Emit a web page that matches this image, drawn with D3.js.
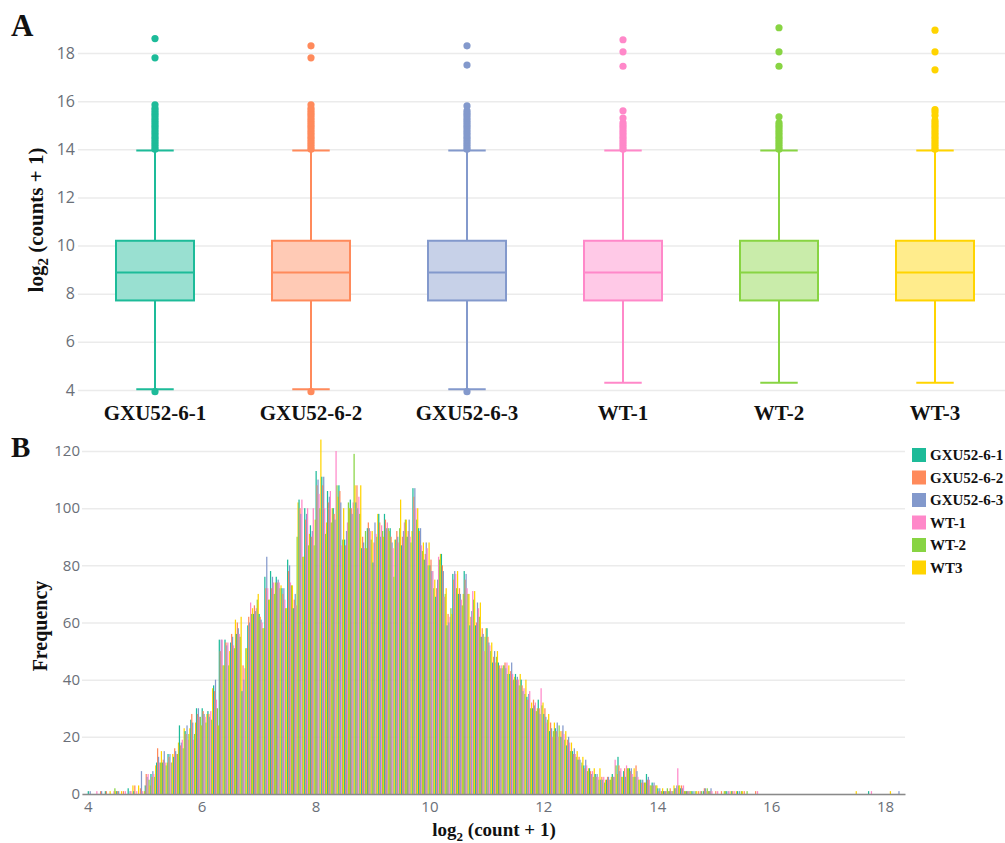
<!DOCTYPE html>
<html>
<head>
<meta charset="utf-8">
<script src="https://cdn.jsdelivr.net/npm/d3@7"></script>
<style>
body { margin: 0; background: #fff; }
</style>
</head>
<body>
<div id="chart"></div>
<script>
var width = 1005;
var height = 843;

// samples and colours
var samples = ["GXU52-6-1", "GXU52-6-2", "GXU52-6-3", "WT-1", "WT-2", "WT-3"];
var legendLabels = ["GXU52-6-1", "GXU52-6-2", "GXU52-6-3", "WT-1", "WT-2", "WT3"];
var colors = ["#1dbb99", "#ff8a5b", "#8399cc", "#ff88c9", "#88d443", "#ffd400"];

// panel A: box plot stats (log2 counts + 1)
var lowerWhisker = [4.03, 4.03, 4.03, 4.3, 4.3, 4.3];
var q1 = [7.72, 7.72, 7.72, 7.72, 7.72, 7.72];
var median = [8.88, 8.88, 8.88, 8.88, 8.88, 8.88];
var q3 = [10.2, 10.2, 10.2, 10.2, 10.2, 10.2];
var upperWhisker = [13.95, 13.95, 13.95, 13.95, 13.95, 13.95];
var outliers = [
  [3.93, 14.0, 14.1, 14.2, 14.3, 14.4, 14.5, 14.6, 14.7, 14.8, 14.9, 15.0, 15.1, 15.2, 15.3, 15.4, 15.5, 15.6, 15.7, 15.85, 17.8, 18.6],
  [3.93, 14.0, 14.1, 14.2, 14.3, 14.4, 14.5, 14.6, 14.7, 14.8, 14.9, 15.0, 15.1, 15.2, 15.3, 15.4, 15.5, 15.6, 15.7, 15.85, 17.8, 18.3],
  [3.93, 14.0, 14.1, 14.2, 14.3, 14.4, 14.5, 14.6, 14.7, 14.8, 14.9, 15.0, 15.1, 15.2, 15.3, 15.4, 15.5, 15.6, 15.8, 17.5, 18.3],
  [14.0, 14.1, 14.2, 14.3, 14.4, 14.5, 14.6, 14.7, 14.8, 14.9, 15.0, 15.1, 15.3, 15.6, 17.45, 18.05, 18.55],
  [14.0, 14.1, 14.2, 14.3, 14.4, 14.5, 14.6, 14.7, 14.8, 14.9, 15.0, 15.1, 15.35, 17.45, 18.05, 19.05],
  [14.0, 14.1, 14.2, 14.3, 14.4, 14.5, 14.6, 14.7, 14.8, 14.9, 15.0, 15.1, 15.2, 15.4, 15.55, 15.65, 17.3, 18.05, 18.95]
];
var boxTicks = [4, 6, 8, 10, 12, 14, 16, 18];

// panel B: histogram, bins of 0.1 from 4.0 to 15.7 plus a few sparse bins
var binWidth = 0.1;
var bins = d3.range(40, 158).map(function(d) { return d / 10; }).concat([17.4, 17.7, 18.0, 18.2]);
var freqGXU1 = [
  1,0,0,1,0,1,0,2,1,0,
  3,7,11,11,14,13,24,22,26,30,
  30,29,38,54,54,53,56,36,59,63,
  63,76,78,76,72,82,65,103,100,94,
  113,111,106,100,108,89,103,102,86,93,
  81,98,98,93,89,87,90,107,93,82,
  80,69,84,59,77,70,78,59,59,55,
  58,46,46,45,42,42,40,34,30,33,
  28,22,23,20,17,15,12,10,9,7,
  5,5,7,13,8,9,6,5,7,4,
  2,1,1,2,2,1,1,0,1,1,
  0,0,1,1,1,0,0,0,
  0,1,0,0];
var freqGXU2 = [
  0,0,1,1,0,1,1,0,3,2,
  7,6,16,12,13,16,17,21,28,28,
  29,28,36,50,53,56,60,45,62,66,
  62,72,72,74,70,78,68,100,96,90,
  108,108,102,98,106,87,100,108,90,95,
  88,95,96,90,92,90,92,104,92,84,
  82,72,80,63,75,72,75,62,60,58,
  55,48,45,46,43,40,38,33,33,30,
  30,25,22,22,19,14,13,9,8,6,
  6,6,6,10,9,8,10,4,5,3,
  1,1,2,2,3,1,0,1,2,1,
  1,1,0,1,0,1,0,1,
  0,0,0,0];
var freqGXU3 = [
  1,0,1,0,0,1,0,1,0,8,
  6,8,13,15,14,15,18,24,25,30,
  28,27,40,54,52,55,58,40,60,64,
  61,83,76,75,72,80,70,98,98,92,
  110,111,104,96,102,92,98,100,88,93,
  95,90,93,88,90,92,96,107,93,88,
  78,75,78,60,78,70,77,64,67,56,
  53,50,44,44,46,41,36,35,31,28,
  27,23,25,24,20,16,12,12,7,7,
  5,6,6,8,6,9,8,5,6,4,
  2,1,1,3,2,1,1,0,2,2,
  0,0,1,0,1,0,0,0,
  0,0,0,1];
var freqWT1 = [
  0,1,0,0,1,0,1,1,1,1,
  7,7,11,11,11,14,19,19,19,27,
  27,29,33,54,53,52,56,44,67,65,
  60,72,74,74,68,74,66,103,100,100,
  105,100,106,120,87,95,102,104,86,92,
  91,94,95,86,88,95,90,100,87,86,
  78,83,69,62,77,68,72,71,65,50,
  52,46,45,46,42,40,37,36,32,37,
  25,20,20,21,18,14,10,10,8,6,
  6,5,12,9,10,7,6,4,5,3,
  1,1,1,9,3,1,0,1,1,1,
  1,0,1,1,0,0,0,1,
  0,1,0,0];
var freqWT2 = [
  0,0,0,0,2,0,0,0,0,0,
  5,6,11,10,11,14,16,21,21,27,
  25,26,30,45,45,51,55,51,63,68,
  58,68,70,72,65,73,90,83,87,87,
  100,91,95,108,89,102,119,98,92,89,
  90,92,93,76,93,96,88,96,85,80,
  72,82,70,65,72,66,70,68,62,55,
  50,48,44,42,40,38,35,30,29,31,
  26,22,24,19,15,13,11,8,6,5,
  4,5,10,6,9,6,5,4,3,3,
  1,2,1,3,1,1,1,1,2,0,
  0,1,0,0,1,1,0,0,
  0,0,0,0];
var freqWT3 = [
  0,0,0,1,1,1,0,3,3,1,
  3,10,15,11,14,18,23,23,25,24,
  28,37,24,45,50,61,62,51,65,70,
  58,68,74,73,65,73,102,83,91,96,
  124,95,100,104,100,100,108,108,86,92,
  98,90,92,89,103,96,92,100,88,88,
  75,84,72,63,78,70,70,71,67,58,
  53,50,45,45,41,42,40,32,30,32,
  28,25,22,22,18,15,13,9,9,9,
  5,6,7,6,9,9,5,4,3,3,
  2,1,3,3,1,1,1,0,1,0,
  0,1,1,1,1,0,0,0,
  1,0,1,0];
var freqSeries = [freqGXU1, freqGXU2, freqGXU3, freqWT1, freqWT2, freqWT3];
var histXTicks = [4, 6, 8, 10, 12, 14, 16, 18];
var histYTicks = [0, 20, 40, 60, 80, 100, 120];

var serif = "'Liberation Serif', 'Times New Roman', serif";
var sans = "'Open Sans', 'Noto Sans', sans-serif";

var svg = d3.select("#chart")
  .append("svg")
  .attr("width", width)
  .attr("height", height);

// ---------- panel A ----------
var yA = d3.scaleLinear().domain([4, 18]).range([390, 53]);
var xA = d3.scaleBand().domain(samples).range([77, 1013]);
var boxW = xA.bandwidth() * 0.5;
var capW = xA.bandwidth() * 0.24;

var yAxisA = svg.append("g")
  .attr("transform", "translate(78,0)")
  .call(d3.axisLeft(yA).tickValues(boxTicks).tickSize(-(1005 - 78)).tickPadding(3));
yAxisA.select(".domain").remove();
yAxisA.selectAll("line").attr("stroke", "#ebebeb").attr("stroke-width", 1.5);
yAxisA.selectAll("text").attr("fill", "#6a6f78").style("font-family", sans).style("font-size", "16px");

var boxes = svg.selectAll("g.box")
  .data(samples)
  .enter()
  .append("g")
    .attr("class", "box")
    .attr("transform", function(d) { return "translate(" + (xA(d) + xA.bandwidth() / 2) + ",0)"; });

// whisker stems
boxes.append("line")
  .attr("x1", 0).attr("x2", 0)
  .attr("y1", function(d, i) { return yA(lowerWhisker[i]); })
  .attr("y2", function(d, i) { return yA(upperWhisker[i]); })
  .attr("stroke", function(d, i) { return colors[i]; })
  .attr("stroke-width", 2);
// caps
[lowerWhisker, upperWhisker].forEach(function(arr) {
  boxes.append("line")
    .attr("x1", -capW / 2).attr("x2", capW / 2)
    .attr("y1", function(d, i) { return yA(arr[i]); })
    .attr("y2", function(d, i) { return yA(arr[i]); })
    .attr("stroke", function(d, i) { return colors[i]; })
    .attr("stroke-width", 2);
});
// box (white under the translucent fill so the stem doesn't show through)
boxes.append("rect")
  .attr("x", -boxW / 2)
  .attr("width", boxW)
  .attr("y", function(d, i) { return yA(q3[i]); })
  .attr("height", function(d, i) { return yA(q1[i]) - yA(q3[i]); })
  .attr("fill", "#fff");
boxes.append("rect")
  .attr("x", -boxW / 2)
  .attr("width", boxW)
  .attr("y", function(d, i) { return yA(q3[i]); })
  .attr("height", function(d, i) { return yA(q1[i]) - yA(q3[i]); })
  .attr("fill", function(d, i) { return colors[i]; })
  .attr("fill-opacity", 0.45)
  .attr("stroke", function(d, i) { return colors[i]; })
  .attr("stroke-width", 2);
// median
boxes.append("line")
  .attr("x1", -boxW / 2).attr("x2", boxW / 2)
  .attr("y1", function(d, i) { return yA(median[i]); })
  .attr("y2", function(d, i) { return yA(median[i]); })
  .attr("stroke", function(d, i) { return colors[i]; })
  .attr("stroke-width", 2);
// outliers
boxes.each(function(d, i) {
  d3.select(this).selectAll("circle")
    .data(outliers[i])
    .enter()
    .append("circle")
      .attr("cx", 0)
      .attr("cy", function(v) { return yA(v); })
      .attr("r", 3.6)
      .attr("fill", colors[i]);
});

// category labels
svg.selectAll("text.cat")
  .data(samples)
  .enter()
  .append("text")
    .attr("class", "cat")
    .attr("x", function(d) { return xA(d) + xA.bandwidth() / 2; })
    .attr("y", 420)
    .attr("text-anchor", "middle")
    .style("font-family", serif)
    .style("font-weight", "bold")
    .style("font-size", "21px")
    .attr("fill", "#111")
    .text(function(d) { return d; });

var yLabelA = svg.append("text")
  .attr("transform", "rotate(-90)")
  .attr("x", -220)
  .attr("y", 43)
  .attr("text-anchor", "middle")
  .style("font-family", serif)
  .style("font-weight", "bold")
  .style("font-size", "21px")
  .attr("fill", "#111");
yLabelA.append("tspan").text("log");
yLabelA.append("tspan").attr("dy", 5).style("font-size", "15px").text("2");
yLabelA.append("tspan").attr("dy", -5).text(" (counts + 1)");

svg.append("text")
  .attr("x", 11).attr("y", 36)
  .style("font-family", serif).style("font-weight", "bold").style("font-size", "31px")
  .attr("fill", "#111")
  .text("A");

// ---------- panel B ----------
var xB = d3.scaleLinear().domain([3.9, 18.35]).range([82, 905]);
var yB = d3.scaleLinear().domain([0, 120]).range([794, 451]);

var yAxisB = svg.append("g")
  .attr("transform", "translate(82,0)")
  .call(d3.axisLeft(yB).tickValues(histYTicks).tickSize(-(905 - 82)).tickPadding(2));
yAxisB.select(".domain").remove();
yAxisB.selectAll("line").attr("stroke", "#ebebeb").attr("stroke-width", 1.5);
yAxisB.selectAll("text").attr("fill", "#6a6f78").style("font-family", sans).style("font-size", "15px");

var xSub = d3.scaleBand()
  .domain(d3.range(freqSeries.length))
  .range([0, xB(4 + binWidth) - xB(4)]);

var barData = [];
bins.forEach(function(b, i) {
  freqSeries.forEach(function(arr, s) {
    if (arr[i] > 0) barData.push({bin: b, s: s, v: arr[i]});
  });
});

svg.append("g").selectAll("rect")
  .data(barData)
  .enter()
  .append("rect")
    .attr("x", function(d) { return xB(d.bin) + xSub(d.s); })
    .attr("width", xSub.bandwidth() * 1.3)
    .attr("y", function(d) { return yB(d.v); })
    .attr("height", function(d) { return yB(0) - yB(d.v); })
    .attr("fill", function(d) { return colors[d.s]; });

var xAxisB = svg.append("g")
  .attr("transform", "translate(0," + yB(0) + ")")
  .call(d3.axisBottom(xB).tickValues(histXTicks).tickSize(0).tickPadding(7));
xAxisB.select(".domain").attr("stroke", "#8a8a8a").attr("stroke-width", 1.5);
xAxisB.selectAll("text").attr("fill", "#6a6f78").style("font-family", sans).style("font-size", "15px");

svg.append("text")
  .attr("transform", "rotate(-90)")
  .attr("x", -626)
  .attr("y", 47)
  .attr("text-anchor", "middle")
  .style("font-family", serif).style("font-weight", "bold").style("font-size", "20px")
  .attr("fill", "#111")
  .text("Frequency");

var xLabelB = svg.append("text")
  .attr("x", 494)
  .attr("y", 836)
  .attr("text-anchor", "middle")
  .style("font-family", serif).style("font-weight", "bold").style("font-size", "19px")
  .attr("fill", "#111");
xLabelB.append("tspan").text("log");
xLabelB.append("tspan").attr("dy", 5).style("font-size", "13px").text("2");
xLabelB.append("tspan").attr("dy", -5).text(" (count + 1)");

svg.append("text")
  .attr("x", 11).attr("y", 457)
  .style("font-family", serif).style("font-weight", "bold").style("font-size", "29px")
  .attr("fill", "#111")
  .text("B");

// legend (kept small enough to fit inside the page)
var legend = svg.selectAll("g.legend")
  .data(legendLabels)
  .enter()
  .append("g")
    .attr("class", "legend")
    .attr("transform", function(d, i) { return "translate(912," + (448 + i * 22.5) + ")"; });
legend.append("rect")
  .attr("width", 14).attr("height", 14)
  .attr("fill", function(d, i) { return colors[i]; });
legend.append("text")
  .attr("x", 18).attr("y", 12)
  .style("font-family", serif).style("font-weight", "bold").style("font-size", "15px")
  .attr("fill", "#111")
  .text(function(d) { return d; });
</script>
</body>
</html>
